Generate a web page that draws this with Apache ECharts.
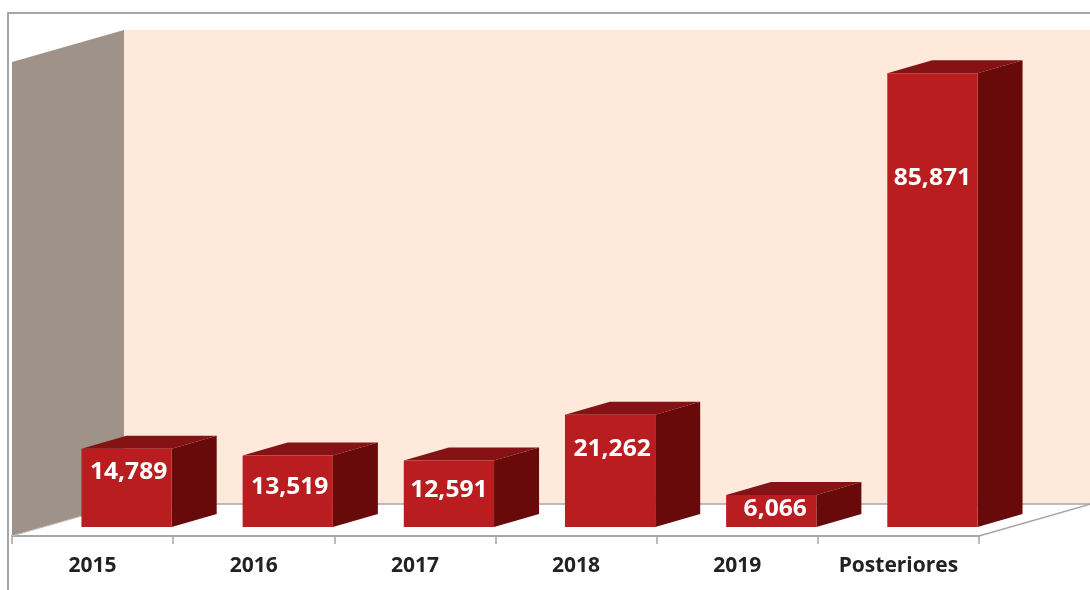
<!DOCTYPE html>
<html>
<head>
<meta charset="utf-8">
<style>
  html, body { margin: 0; padding: 0; background: #fff; }
  #chart { width: 1090px; height: 590px; }
</style>
<script src="https://cdn.jsdelivr.net/npm/echarts@6/dist/echarts.min.js"></script>
</head>
<body>
<div id="chart"></div>
<script>
// Amounts per year
const categories = ['2015', '2016', '2017', '2018', '2019', 'Posteriores'];
const amounts = [14789, 13519, 12591, 21262, 6066, 85871];

// Placement of each value label relative to its bar, in pixels
const labelLift = [55, 40, 37, 78, 18, 349];
const labelNudge = [2, 2, 0, 2, 4, 0];

const WALL_DX = 112, WALL_DY = 32;     // depth of the room
const BAR_DX = 45, BAR_DY = 13;        // depth of a bar
const BAR_SHIFT = 34;                  // bars stand in the middle of the floor
const FLOOR_LIFT = 9;                  // gap between the front edge and the bar bases
const LINE = '#A6A6A6';

const chart = echarts.init(document.getElementById('chart'), null, { renderer: 'canvas' });

function renderRoom(params) {
  const g = params.coordSys;
  const left = g.x, right = g.x + g.width, top = g.y;
  const front = g.y + g.height + FLOOR_LIFT;
  const back = front - WALL_DY;
  return {
    type: 'group',
    children: [
      { type: 'rect',
        shape: { x: left + WALL_DX, y: top - WALL_DY, width: right - left, height: back - top + WALL_DY },
        style: { fill: '#FEE9DB' } },
      { type: 'polygon',
        shape: { points: [[left, top], [left + WALL_DX, top - WALL_DY], [left + WALL_DX, back], [left, front]] },
        style: { fill: '#9F9389' } },
      { type: 'line',
        shape: { x1: left + WALL_DX, y1: back, x2: right + WALL_DX, y2: back },
        style: { stroke: LINE, lineWidth: 1.5 } },
      { type: 'line',
        shape: { x1: right, y1: front, x2: right + WALL_DX, y2: back },
        style: { stroke: LINE, lineWidth: 1.5 } },
      { type: 'line',
        shape: { x1: left, y1: front, x2: left + WALL_DX, y2: back },
        style: { stroke: '#C9C3BD', lineWidth: 1 } }
    ]
  };
}

function renderBar(params, api) {
  const i = api.value(0);
  const base = api.coord([i, 0]);
  const head = api.coord([i, api.value(1)]);
  const width = api.size([1, 0])[0] * 0.56;
  const x0 = base[0] + BAR_SHIFT - width / 2;
  const x1 = x0 + width;
  const y0 = base[1], y1 = head[1];
  return {
    type: 'group',
    children: [
      { type: 'polygon',
        shape: { points: [[x0, y1], [x0 + BAR_DX, y1 - BAR_DY], [x1 + BAR_DX, y1 - BAR_DY], [x1, y1]] },
        style: { fill: '#851214' } },
      { type: 'polygon',
        shape: { points: [[x1, y1], [x1 + BAR_DX, y1 - BAR_DY], [x1 + BAR_DX, y0 - BAR_DY], [x1, y0]] },
        style: { fill: '#680A09' } },
      { type: 'rect',
        shape: { x: x0, y: y1, width: width, height: y0 - y1 },
        style: { fill: '#B91D20' } },
      { type: 'text',
        x: x0 + width / 2 + labelNudge[i],
        y: y0 - labelLift[i],
        scaleX: 1.07,
        style: {
          text: api.value(1).toLocaleString('en-US'),
          align: 'center',
          verticalAlign: 'middle',
          fill: '#FFFFFF',
          font: 'bold 23px "Open Sans"'
        } }
    ]
  };
}

chart.setOption({
  animation: false,
  backgroundColor: '#FFFFFF',
  grid: { left: 12, right: 111, top: 62, bottom: 63 },
  graphic: [{
    type: 'polyline',
    silent: true,
    shape: { points: [[8, 590], [8, 13], [1090, 13]] },
    style: { stroke: LINE, lineWidth: 2, fill: null }
  }],
  xAxis: {
    type: 'category',
    data: categories,
    offset: FLOOR_LIFT,
    axisLine: { show: true, onZero: false, lineStyle: { color: LINE, width: 2 } },
    axisTick: { show: true, alignWithLabel: false, length: 8, lineStyle: { color: LINE, width: 1.5 } },
    axisLabel: { margin: 20, color: '#222222', fontFamily: 'Open Sans', fontWeight: 'bold', fontSize: 21, interval: 0 },
    splitLine: { show: false }
  },
  yAxis: { type: 'value', min: 0, max: 88000, show: false, splitLine: { show: false } },
  series: [
    { type: 'custom', silent: true, z: 1, renderItem: renderRoom, data: [[0, 0]] },
    { type: 'custom', silent: true, z: 3, renderItem: renderBar,
      encode: { x: 0, y: 1 },
      data: amounts.map((v, i) => [i, v]) }
  ]
});
</script>
</body>
</html>
